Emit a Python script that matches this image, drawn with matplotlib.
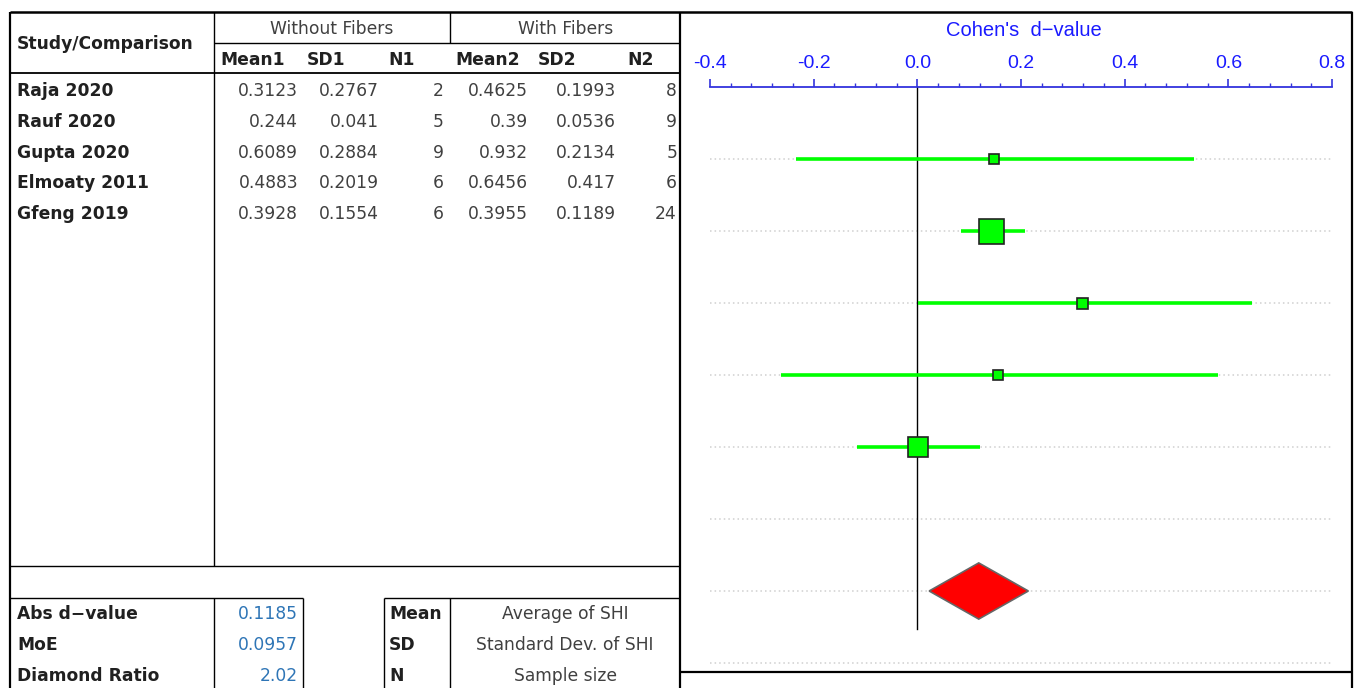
import matplotlib
matplotlib.use("Agg")
import matplotlib.pyplot as plt
from matplotlib.patches import Polygon
from matplotlib.ticker import MultipleLocator

# table data
studies = ["Raja 2020", "Rauf 2020", "Gupta 2020", "Elmoaty 2011", "Gfeng 2019"]
mean1 = ["0.3123", "0.244", "0.6089", "0.4883", "0.3928"]
sd1 = ["0.2767", "0.041", "0.2884", "0.2019", "0.1554"]
n1 = ["2", "5", "9", "6", "6"]
mean2 = ["0.4625", "0.39", "0.932", "0.6456", "0.3955"]
sd2 = ["0.1993", "0.0536", "0.2134", "0.417", "0.1189"]
n2 = ["8", "9", "5", "6", "24"]

# forest plot values (Cohen's d and CI)
d_values = [0.148, 0.142, 0.318, 0.156, 0.001]
ci_low = [-0.234, 0.085, 0.001, -0.263, -0.116]
ci_high = [0.534, 0.207, 0.645, 0.580, 0.121]
weights = [10, 25, 11, 10, 20]  # relative square size

abs_d = 0.1185
moe = 0.0957
diamond_ratio = "2.02"

summary_labels = ["Abs d\u2212value", "MoE", "Diamond Ratio"]
summary_values = ["0.1185", "0.0957", diamond_ratio]
legend_keys = ["Mean", "SD", "N"]
legend_desc = ["Average of SHI", "Standard Dev. of SHI", "Sample size"]

W, H = 1356, 688
fig = plt.figure(figsize=(W / 100, H / 100), dpi=100)

# background axes in pixel coords for the table
bg = fig.add_axes([0, 0, 1, 1])
bg.set_xlim(0, W)
bg.set_ylim(H, 0)
bg.axis("off")

TF = "DejaVu Sans"
txt_col = "#404040"
fs = 12.3


def hline(y, x0, x1, lw=1.0):
    bg.plot([x0, x1], [y, y], color="black", lw=lw, solid_capstyle="butt")


def vline(x, y0, y1, lw=1.0):
    bg.plot([x, x], [y0, y1], color="black", lw=lw, solid_capstyle="butt")


# borders
vline(10, 12, H, 1.6)
hline(12, 10, 1352, 1.8)
vline(680, 12, H, 1.6)
vline(1352, 12, H, 1.6)
hline(672, 680, 1352, 1.6)
vline(214, 12, 566)
vline(450, 12, 43)
hline(43, 214, 680)
hline(73, 10, 680, 1.3)
hline(566, 10, 680)
hline(598, 10, 303)
vline(214, 598, H)
vline(303, 598, H)
hline(598, 384, 680)
vline(384, 598, H)
vline(450, 598, H)

# header
bg.text(17, 44, "Study/Comparison", fontsize=fs, fontweight="bold", family=TF,
        va="center", ha="left", color="#202020")
bg.text(332, 29, "Without Fibers", fontsize=fs, family=TF, va="center", ha="center", color=txt_col)
bg.text(566, 29, "With Fibers", fontsize=fs, family=TF, va="center", ha="center", color=txt_col)
sub_x = [220, 307, 388, 455, 538, 627]
for x, lab in zip(sub_x, ["Mean1", "SD1", "N1", "Mean2", "SD2", "N2"]):
    bg.text(x, 60, lab, fontsize=fs, fontweight="bold", family=TF, va="center",
            ha="left", color="#202020")

col_right = [298, 379, 444, 528, 616, 677]
for i, name in enumerate(studies):
    y = 91 + i * 30.8
    bg.text(17, y, name, fontsize=fs, fontweight="bold", family=TF, va="center",
            ha="left", color="#202020")
    for x, col in zip(col_right, [mean1, sd1, n1, mean2, sd2, n2]):
        bg.text(x, y, col[i], fontsize=fs, family=TF, va="center", ha="right", color=txt_col)

for i in range(3):
    y = 614 + i * 31
    bg.text(17, y, summary_labels[i], fontsize=fs, fontweight="bold", family=TF,
            va="center", ha="left", color="#202020")
    bg.text(298, y, summary_values[i], fontsize=fs, family=TF, va="center",
            ha="right", color="#2e75b6")
    bg.text(389, y, legend_keys[i], fontsize=fs, fontweight="bold", family=TF,
            va="center", ha="left", color="#202020")
    bg.text(565, y, legend_desc[i], fontsize=fs, family=TF, va="center",
            ha="center", color=txt_col)

# forest plot axes
ax_x0, ax_x1 = 710, 1332
ax_y0, ax_y1 = 87, 672
ax = fig.add_axes([ax_x0 / W, 1 - ax_y1 / H, (ax_x1 - ax_x0) / W, (ax_y1 - ax_y0) / H])
ax.set_facecolor("none")
n_rows = 8
diamond_row = 6
ax.set_xlim(-0.4, 0.8)
ax.set_ylim(n_rows - 1 + 0.125, -1)

for s in ["bottom", "left", "right"]:
    ax.spines[s].set_visible(False)
ax.spines["top"].set_color("#3333dd")
ax.spines["top"].set_linewidth(1.3)
ax.xaxis.set_ticks_position("top")
ax.xaxis.set_major_locator(MultipleLocator(0.2))
ax.xaxis.set_minor_locator(MultipleLocator(0.04))
ax.tick_params(axis="x", which="major", direction="out", length=6, width=1.2,
               color="#3333dd", labelcolor="#1a1aff", labelsize=14, pad=5)
ax.tick_params(axis="x", which="minor", direction="out", length=3.0, width=1.0,
               color="#3333dd")
ax.set_yticks([])
ax.set_xticklabels([f"{v:.1f}" for v in ax.get_xticks()], family="Liberation Sans")
ax.set_xlim(-0.4, 0.8)

fig.text(1024 / W, 1 - 30 / H, "Cohen's  d\u2212value", color="#1a1aff", fontsize=14.5,
         family="Liberation Sans", ha="center", va="center")

# dotted row guides
for r in range(n_rows):
    ax.plot([-0.4, 0.8], [r, r], color="#d0d0d0", lw=1.1, ls=(0, (1, 2)), zorder=1)

# zero line
ax.plot([0, 0], [-1, diamond_row + 0.53], color="black", lw=1.0, zorder=2)

for i in range(len(d_values)):
    ax.plot([ci_low[i], ci_high[i]], [i, i], color="#00ff00", lw=2.6,
            solid_capstyle="butt", zorder=3)
    ax.plot(d_values[i], i, marker="s", ms=weights[i] * 0.72, mfc="#00ff00",
            mec="#222222", mew=1.2, zorder=4)

dh = 0.39
diamond = Polygon([[abs_d - moe, diamond_row], [abs_d, diamond_row - dh],
                   [abs_d + moe, diamond_row], [abs_d, diamond_row + dh]],
                  closed=True, facecolor="#ff0000", edgecolor="#666666", lw=1.2, zorder=4)
ax.add_patch(diamond)

fig.savefig("out.png", dpi=100)
